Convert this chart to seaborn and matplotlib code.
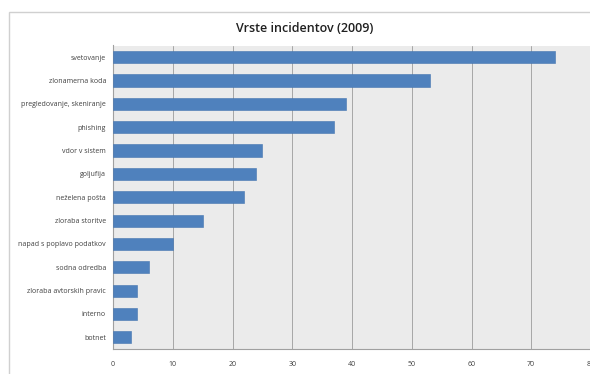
import matplotlib
matplotlib.use("Agg")
import matplotlib.pyplot as plt
import seaborn as sns
import pandas as pd
from matplotlib.patches import Rectangle

categories = ["svetovanje", "zlonamerna koda", "pregledovanje, skeniranje", "phishing",
              "vdor v sistem", "goljufija", "neželena pošta", "zloraba storitve",
              "napad s poplavo podatkov", "sodna odredba", "zloraba avtorskih pravic",
              "interno", "botnet"]
values = [74, 53, 39, 37, 25, 24, 22, 15, 10, 6, 4, 4, 3]
xticks = [0, 10, 20, 30, 40, 50, 60, 70, 80]
title = "Vrste incidentov (2009)"

sns.set_theme(style="white")
plt.rcParams['font.family'] = ['Open Sans', 'DejaVu Sans']

W, H = 590, 374
fig = plt.figure(figsize=(W / 100, H / 100), dpi=100)
fig.patch.set_facecolor("white")

# outer chart border
fig.patches.append(Rectangle((9 / W, -0.05), 1.2, (H - 12) / H + 0.05, transform=fig.transFigure,
                             fill=False, edgecolor="#d0d0d0", linewidth=1.0))

left, right, top, bottom = 113, 591, 45.5, 349
ax = fig.add_axes([left / W, 1 - bottom / H, (right - left) / W, (bottom - top) / H])
ax.set_facecolor("#ebebeb")

df = pd.DataFrame({"kategorija": categories, "stevilo": values})
sns.barplot(data=df, y="kategorija", x="stevilo", orient="h", color="#4f81bd",
            saturation=1, width=0.52, ax=ax, zorder=3)
for p in ax.patches:
    p.set_edgecolor("#4475b0")
    p.set_linewidth(0.4)

ax.set_xlim(0, 80)
ax.set_ylim(len(categories) - 0.5, -0.5)
ax.set_xticks(xticks)
ax.set_xticklabels([str(t) for t in xticks], fontsize=5, color="#404040")
ax.set_yticks(range(len(categories)))
ax.set_yticklabels(categories, fontsize=5, color="#404040")
ax.set_xlabel("")
ax.set_ylabel("")
ax.grid(axis="x", color="#a6a6a6", linewidth=0.7, zorder=0)
ax.set_axisbelow(True)
for s in ["top", "right"]:
    ax.spines[s].set_visible(False)
for s in ["left", "bottom"]:
    ax.spines[s].set_color("#a0a0a0")
    ax.spines[s].set_linewidth(0.8)
ax.tick_params(axis="y", length=0, pad=5)
ax.tick_params(axis="x", length=3, color="#a0a0a0", pad=6, direction="out")
ax.set_yticks([i + 0.5 for i in range(-1, len(categories))], minor=True)
ax.tick_params(axis="y", which="minor", length=3, color="#a0a0a0", direction="out")

fig.text(305 / W, 1 - 28 / H, title, ha="center", va="center", fontsize=9,
         color="#202020", fontweight="semibold")

fig.savefig("out.png", dpi=100)
